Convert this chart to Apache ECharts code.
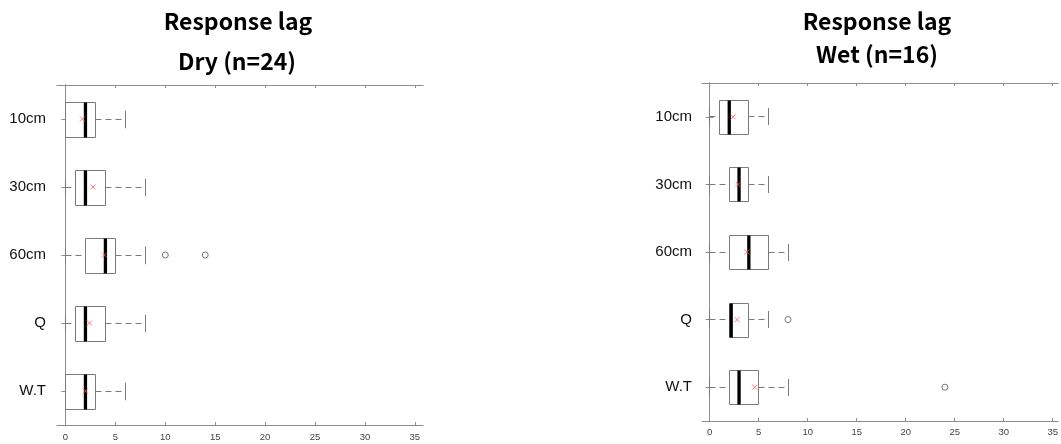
<!DOCTYPE html>
<html>
<head>
<meta charset="utf-8">
<script src="https://cdn.jsdelivr.net/npm/echarts@6/dist/echarts.min.js"></script>
<style>
  html, body { margin: 0; padding: 0; background: #fff; }
  #chart { width: 1061px; height: 444px; }
</style>
</head>
<body>
<div id="chart"></div>
<script>
// Sensor depths / gauges, top to bottom
const categories = ['10cm', '30cm', '60cm', 'Q', 'W.T'];
const xTicks = [0, 5, 10, 15, 20, 25, 30, 35];

// Dry season (n=24): [lower whisker, Q1, median, Q3, upper whisker]
const dryBoxes = [
  [0, 0, 2, 3, 6],
  [0, 1, 2, 4, 8],
  [0, 2, 4, 5, 8],
  [0, 1, 2, 4, 8],
  [0, 0, 2, 3, 6]
];
const dryMeans = [1.7, 2.75, 3.9, 2.4, 2.0];
const dryOutliers = [[10, '60cm'], [14, '60cm']];

// Wet season (n=16)
const wetBoxes = [
  [0, 1, 2, 4, 6],
  [0, 2, 3, 4, 6],
  [0, 2, 4, 6, 8],
  [0, 2, 2.2, 4, 6],
  [0, 2, 3, 5, 8]
];
const wetMeans = [2.4, 2.9, 3.8, 2.8, 4.6];
const wetOutliers = [[8, 'Q'], [24, 'W.T']];

const GREY = '#7a7a7a';
const AXIS = '#8c8c8c';

// snap a coordinate to the pixel centre so 1px strokes stay sharp
const crisp = v => Math.round(v - 0.5) + 0.5;

function renderBox(params, api) {
  const cat = api.value(0);
  const lo = crisp(api.coord([api.value(1), cat])[0]);
  const q1 = crisp(api.coord([api.value(2), cat])[0]);
  const md = api.coord([api.value(3), cat])[0];
  const q3 = crisp(api.coord([api.value(4), cat])[0]);
  const hi = crisp(api.coord([api.value(5), cat])[0]);
  const yc = api.coord([api.value(1), cat])[1];
  const band = api.size([0, 1])[1];
  const h = Math.round(band * 0.51);
  const y = crisp(yc);
  const top = Math.round(yc - h / 2) + 0.5;
  const dash = { stroke: GREY, lineWidth: 1, lineDash: [6, 4] };
  const solid = { stroke: GREY, lineWidth: 1 };
  const kids = [];
  if (q1 - lo > 0.5) {
    kids.push({ type: 'line', shape: { x1: lo, y1: y, x2: q1, y2: y }, style: dash });
  }
  kids.push({ type: 'line', shape: { x1: lo, y1: y - h / 4, x2: lo, y2: y + h / 4 }, style: solid });
  if (hi - q3 > 0.5) {
    kids.push({ type: 'line', shape: { x1: q3, y1: y, x2: hi, y2: y }, style: dash });
  }
  kids.push({ type: 'line', shape: { x1: hi, y1: y - h / 4, x2: hi, y2: y + h / 4 }, style: solid });
  kids.push({
    type: 'rect',
    shape: { x: q1, y: top, width: q3 - q1, height: h },
    style: { fill: '#fff', stroke: GREY, lineWidth: 1 }
  });
  kids.push({
    type: 'line',
    shape: { x1: md, y1: top, x2: md, y2: top + h },
    style: { stroke: '#000', lineWidth: 3.3 }
  });
  return { type: 'group', children: kids };
}

function xAxes(gridIndex, min, max, labelMargin) {
  return [
    {
      type: 'value', gridIndex, position: 'bottom', min, max,
      axisLine: { show: true, lineStyle: { color: AXIS, width: 1 } },
      axisTick: { show: true, inside: true, length: 3, lineStyle: { color: AXIS }, customValues: xTicks },
      axisLabel: { show: true, customValues: xTicks, color: '#444', fontSize: 9.5, fontFamily: 'Liberation Sans', margin: labelMargin },
      splitLine: { show: false }
    },
    {
      type: 'value', gridIndex, position: 'top', min, max,
      axisLine: { show: true, lineStyle: { color: AXIS, width: 1 } },
      axisTick: { show: true, inside: true, length: 3, lineStyle: { color: AXIS }, customValues: xTicks },
      axisLabel: { show: false },
      splitLine: { show: false }
    }
  ];
}

function yAxes(gridIndex, labelMargin) {
  return [
    {
      type: 'category', gridIndex, position: 'left', data: categories, inverse: true,
      axisLine: { show: true, lineStyle: { color: AXIS, width: 1 } },
      axisTick: { show: true, inside: true, length: 4, alignWithLabel: true, lineStyle: { color: AXIS } },
      axisLabel: { color: '#111', fontSize: 15, fontFamily: 'Liberation Sans', margin: labelMargin }
    },
    {
      type: 'category', gridIndex, position: 'right', data: categories, inverse: true,
      axisLine: { show: true, lineStyle: { color: AXIS, width: 1 } },
      axisTick: { show: true, inside: true, length: 4, alignWithLabel: true, lineStyle: { color: AXIS } },
      axisLabel: { show: false }
    }
  ];
}

function seriesFor(k, boxes, means, outliers) {
  return [
    {
      type: 'custom', xAxisIndex: 2 * k, yAxisIndex: 2 * k,
      renderItem: renderBox,
      encode: { x: [1, 2, 3, 4, 5], y: 0 },
      data: boxes.map((b, i) => [i].concat(b)),
      silent: true, z: 2
    },
    {
      type: 'scatter', xAxisIndex: 2 * k, yAxisIndex: 2 * k,
      data: means.map((m, i) => [m, categories[i]]),
      symbol: 'path://M0,0L10,10M10,0L0,10',
      symbolSize: 5,
      itemStyle: { color: 'none', borderColor: '#ff5a5a', borderWidth: 1 },
      silent: true, z: 4
    },
    {
      type: 'scatter', xAxisIndex: 2 * k, yAxisIndex: 2 * k,
      data: outliers,
      symbol: 'circle', symbolSize: 6,
      itemStyle: { color: '#fff', borderColor: '#555', borderWidth: 1 },
      silent: true, z: 4
    }
  ];
}

const chart = echarts.init(document.getElementById('chart'), null, { renderer: 'canvas' });

const titleFont = 'bold 23px "Noto Sans CJK KR", "Noto Sans", sans-serif';
function titleText(text, x, y) {
  return {
    type: 'text', x, y,
    style: { text, font: titleFont, fill: '#000', textAlign: 'center', textVerticalAlign: 'middle' }
  };
}

chart.setOption({
  animation: false,
  backgroundColor: '#fff',
  grid: [
    { left: 57, top: 85, width: 366, height: 340 },
    { left: 702, top: 83, width: 358, height: 338 }
  ],
  xAxis: [].concat(xAxes(0, -0.85, 35.82, 7), xAxes(1, -0.78, 35.56, 6)),
  yAxis: [].concat(yAxes(0, 11), yAxes(1, 10)),
  series: [].concat(
    seriesFor(0, dryBoxes, dryMeans, dryOutliers),
    seriesFor(1, wetBoxes, wetMeans, wetOutliers)
  ),
  graphic: [
    titleText('Response lag', 238, 21),
    titleText('Dry (n=24)', 237, 61),
    titleText('Response lag', 877, 21),
    titleText('Wet (n=16)', 877, 54)
  ]
});
</script>
</body>
</html>
